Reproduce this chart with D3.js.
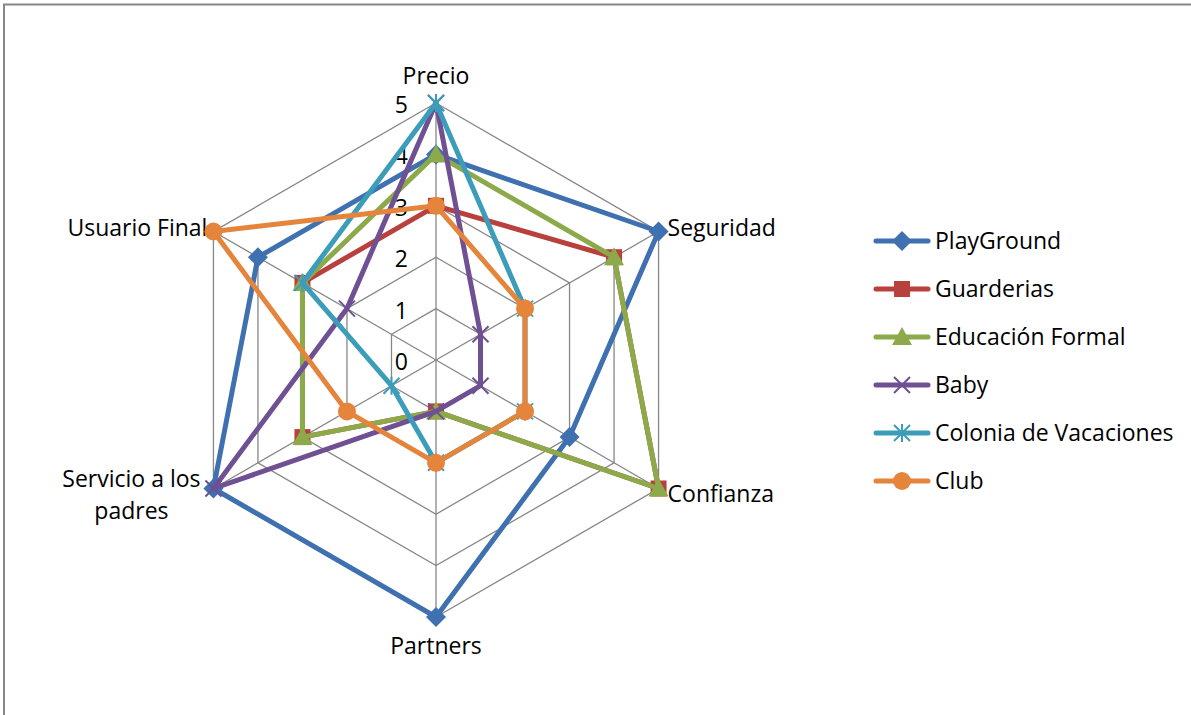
<!DOCTYPE html>
<html>
<head>
<meta charset="utf-8">
<script src="https://cdn.jsdelivr.net/npm/d3@7"></script>
<style>
  html, body { margin: 0; padding: 0; background: #fff; }
  svg text { font-family: "Open Sans", "Lato", sans-serif; fill: #000; }
</style>
</head>
<body>
<svg id="chart" width="1191" height="715"></svg>
<script>
// Radar axes (clockwise from top)
const categories = ["Precio", "Seguridad", "Confianza", "Partners", "Servicio a los padres", "Usuario Final"];
const tickValues = [0, 1, 2, 3, 4, 5];

// Scores per offering
const playGround   = [4, 5, 3, 5, 5, 4];
const guarderias   = [3, 4, 5, 1, 3, 3];
const educacion    = [4, 4, 5, 1, 3, 3];
const baby         = [5, 1, 1, 1, 5, 2];
const colonia      = [5, 2, 2, 2, 1, 3];
const club         = [3, 2, 2, 2, 2, 5];

const seriesNames  = ["PlayGround", "Guarderias", "Educación Formal", "Baby", "Colonia de Vacaciones", "Club"];
const seriesColors = ["#3F70AF", "#B8403D", "#8DAA4B", "#6E5093", "#3C9DBA", "#E5843B"];
const seriesMarks  = ["diamond", "square", "triangle", "cross", "asterisk", "circle"];
const seriesValues = [playGround, guarderias, educacion, baby, colonia, club];

const series = seriesNames.map((name, i) => ({
  name, color: seriesColors[i], mark: seriesMarks[i], values: seriesValues[i]
}));

const svg = d3.select("#chart");
const cx = 436, cy = 360, R = 257;
const FS = 23;

// outer frame (top and left edges visible)
svg.append("path")
  .attr("d", "M4,715 L4,4.5 L1191,4.5")
  .attr("fill", "none").attr("stroke", "#868686").attr("stroke-width", 2);

const r = d3.scaleLinear().domain([0, 5]).range([0, R]);
const angle = d3.scalePoint().domain(categories).range([0, 2 * Math.PI * 5 / 6]);
const pt = (cat, v) => {
  const a = angle(cat);
  return [cx + r(v) * Math.sin(a), cy - r(v) * Math.cos(a)];
};

const g = svg.append("g");

// grid rings
tickValues.filter(t => t > 0).forEach(t => {
  g.append("polygon")
    .attr("points", categories.map(c => pt(c, t).join(",")).join(" "))
    .attr("fill", "none").attr("stroke", "#878787").attr("stroke-width", 1.3);
});
// spokes
categories.forEach(c => {
  const [x, y] = pt(c, 5);
  g.append("line").attr("x1", cx).attr("y1", cy).attr("x2", x).attr("y2", y)
    .attr("stroke", "#878787").attr("stroke-width", 1.3);
});

// value ticks on the top spoke
tickValues.forEach(t => {
  const [, y] = pt(categories[0], t);
  g.append("text").attr("x", 408).attr("y", y + 10)
    .attr("text-anchor", "end").attr("font-size", FS).text(t);
});

// category labels
const catLabel = [
  { dx: 0, dy: -19, anchor: "middle", lines: ["Precio"] },
  { dx: 9, dy: 4, anchor: "start", lines: ["Seguridad"] },
  { dx: 9, dy: 13, anchor: "start", lines: ["Confianza"] },
  { dx: 0, dy: 37, anchor: "middle", lines: ["Partners"] },
  { dx: -82, dy: -2, anchor: "middle", lines: ["Servicio a los", "padres"] },
  { dx: -6, dy: 4, anchor: "end", lines: ["Usuario Final"] }
];
categories.forEach((c, i) => {
  const [x, y] = pt(c, 5);
  const L = catLabel[i];
  const t = g.append("text").attr("text-anchor", L.anchor).attr("font-size", FS);
  L.lines.forEach((s, k) => {
    t.append("tspan").attr("x", x + L.dx).attr("y", y + L.dy + k * 32).text(s);
  });
});

// marker drawer
function drawMark(sel, type, color, x, y) {
  if (type === "diamond") {
    const s = 10;
    sel.append("path").attr("d", `M${x},${y - s}L${x + s},${y}L${x},${y + s}L${x - s},${y}Z`).attr("fill", color);
  } else if (type === "square") {
    sel.append("rect").attr("x", x - 8).attr("y", y - 8).attr("width", 16).attr("height", 16).attr("fill", color);
  } else if (type === "triangle") {
    sel.append("path").attr("d", `M${x},${y - 10}L${x + 10},${y + 8}L${x - 10},${y + 8}Z`).attr("fill", color);
  } else if (type === "cross") {
    sel.append("path").attr("d", `M${x - 8},${y - 8}L${x + 8},${y + 8}M${x + 8},${y - 8}L${x - 8},${y + 8}`)
      .attr("stroke", color).attr("stroke-width", 2).attr("fill", "none");
  } else if (type === "asterisk") {
    sel.append("path").attr("d", `M${x - 8},${y - 8}L${x + 8},${y + 8}M${x + 8},${y - 8}L${x - 8},${y + 8}M${x},${y - 9}L${x},${y + 9}`)
      .attr("stroke", color).attr("stroke-width", 2).attr("fill", "none");
  } else {
    sel.append("circle").attr("cx", x).attr("cy", y).attr("r", 9).attr("fill", color);
  }
}

const line = d3.line().curve(d3.curveLinearClosed);

series.forEach(s => {
  const pts = categories.map((c, i) => pt(c, s.values[i]));
  const sg = g.append("g");
  sg.append("path").attr("d", line(pts))
    .attr("fill", "none").attr("stroke", s.color).attr("stroke-width", 5)
    .attr("stroke-linejoin", "round");
  pts.forEach(p => drawMark(sg, s.mark, s.color, p[0], p[1]));
});

// legend
const lg = svg.append("g");
series.forEach((s, i) => {
  const y = 241 + i * 48;
  lg.append("line").attr("x1", 876).attr("x2", 928).attr("y1", y).attr("y2", y)
    .attr("stroke", s.color).attr("stroke-width", 5).attr("stroke-linecap", "round");
  drawMark(lg, s.mark, s.color, 902, y);
  lg.append("text").attr("x", 935).attr("y", y + 8).attr("font-size", FS).text(s.name);
});
</script>
</body>
</html>
